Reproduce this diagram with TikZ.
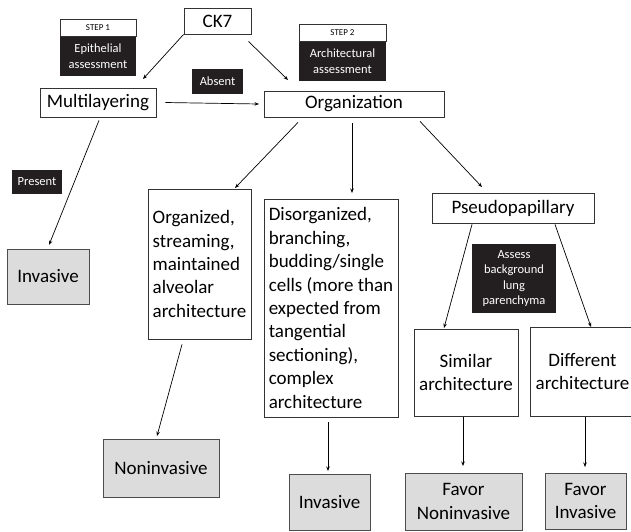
\documentclass[tikz,border=0pt]{standalone}
\usepackage{fontspec}
\setmainfont{Carlito}
\usetikzlibrary{arrows.meta}
\definecolor{boxgray}{HTML}{DCDCDC}
\definecolor{dark}{HTML}{231F20}
\begin{document}
\begin{tikzpicture}[x=1pt,y=-1pt,
  box/.style={draw=black!80, line width=0.8pt, inner sep=0pt, align=center,
    font=\fontsize{19}{23.4}\selectfont},
  leftbox/.style={box, align=left},
  graybox/.style={box, fill=boxgray, draw=black!70},
  blackbox/.style={fill=dark, text=white, inner sep=0pt, align=center,
    font=\fontsize{12.5}{15.5}\selectfont},
  stephead/.style={draw=black!80, line width=0.6pt, fill=white, inner sep=0pt,
    font=\fontsize{9}{10}\selectfont},
  arr/.style={line width=0.7pt, -{Stealth[length=4.5pt,width=3.5pt]}}]
\clip (0,0) rectangle (631,531);
\fill[white] (0,0) rectangle (631,531);

% top row
\node[box, minimum width=67pt, minimum height=26pt] (ck7) at (217.5,21) {CK7};
\node[box, minimum width=116pt, minimum height=29pt] (ml) at (98,102.5) {Multilayering};
\node[box, minimum width=180pt, minimum height=26pt] (org) at (354,104) {Organization};

% step labels
\node[blackbox, minimum width=76pt, minimum height=40pt] (s1b) at (98,56) {Epithelial\\assessment};
\node[stephead, minimum width=76pt, minimum height=17pt] (s1h) at (98,27.5) {STEP 1};
\node[blackbox, minimum width=87pt, minimum height=40pt] (s2b) at (342.5,61) {Architectural\\assessment};
\node[stephead, minimum width=87pt, minimum height=17pt] (s2h) at (342.5,32.5) {STEP 2};
\node[blackbox, minimum width=51pt, minimum height=25pt] (absent) at (217.5,81.5) {Absent};
\node[blackbox, minimum width=50pt, minimum height=24pt] (present) at (37,182) {Present};
\node[blackbox, minimum width=84pt, minimum height=69pt] (assess) at (514,278.5) {Assess\\background\\lung\\parenchyma};

% middle
\node[graybox, minimum width=82pt, minimum height=55pt] (invL) at (48,276.5) {Invasive};
\node[leftbox, minimum width=103pt, minimum height=150pt] (orgd) at (199.5,264)
  {Organized,\\streaming,\\maintained\\alveolar\\architecture};
\node[leftbox, minimum width=134pt, minimum height=218pt] (dis) at (331,308)
  {Disorganized,\\branching,\\budding/single\\cells (more than\\expected from\\tangential\\sectioning),\\complex\\architecture};
\node[box, minimum width=162pt, minimum height=30pt] (pseudo) at (513,208) {Pseudopapillary};
\node[box, minimum width=104pt, minimum height=87pt] (sim) at (466,372.5) {Similar\\architecture};
\node[box, minimum width=105pt, minimum height=89pt] (diff) at (582.5,371.5) {Different\\architecture};

% bottom
\node[graybox, minimum width=116pt, minimum height=58pt] (nonL) at (161,468) {Noninvasive};
\node[graybox, minimum width=81pt, minimum height=56pt] (invM) at (329.5,502) {Invasive};
\node[graybox, minimum width=117pt, minimum height=57pt] (favN) at (463.5,501.5) {Favor\\Noninvasive};
\node[graybox, minimum width=81pt, minimum height=56pt] (favI) at (585.5,501) {Favor\\Invasive};

% arrow end points
\coordinate (e1) at (143,79);
\coordinate (e2) at (288,80);
\coordinate (e3) at (259,104);
\coordinate (e4) at (49,245);
\coordinate (e5) at (235,188);
\coordinate (e6) at (352,193);
\coordinate (e7) at (482,187);
\coordinate (e8) at (444,328);
\coordinate (e9) at (591,327);
\coordinate (e10) at (157,436);
\coordinate (e11) at (328,471);
\coordinate (e12) at (463,466);
\coordinate (e13) at (585,467);

\draw[arr] (ck7.south west) -- (e1);
\draw[arr] ([xshift=31pt,yshift=-7pt]ck7.south) -- (e2);
\draw[arr] ([xshift=9pt]ml.east) -- (e3);
\draw[arr] ([xshift=1pt,yshift=-3pt]ml.south) -- (e4);
\draw[arr] ([xshift=-56pt,yshift=-5pt]org.south) -- (e5);
\draw[arr] ([xshift=-2pt,yshift=-6pt]org.south) -- (e6);
\draw[arr] ([xshift=66pt,yshift=-4pt]org.south) -- (e7);
\draw[arr] ([xshift=-41pt,yshift=-1pt]pseudo.south) -- (e8);
\draw[arr] ([xshift=42pt,yshift=-1pt]pseudo.south) -- (e9);
\draw[arr] ([xshift=-17.5pt,yshift=-5pt]orgd.south) -- (e10);
\draw[arr] ([xshift=-3pt,yshift=-5pt]dis.south) -- (e11);
\draw[arr] ([xshift=-3pt,yshift=-1pt]sim.south) -- (e12);
\draw[arr] ([xshift=2.5pt,yshift=-1pt]diff.south) -- (e13);
\end{tikzpicture}
\end{document}
